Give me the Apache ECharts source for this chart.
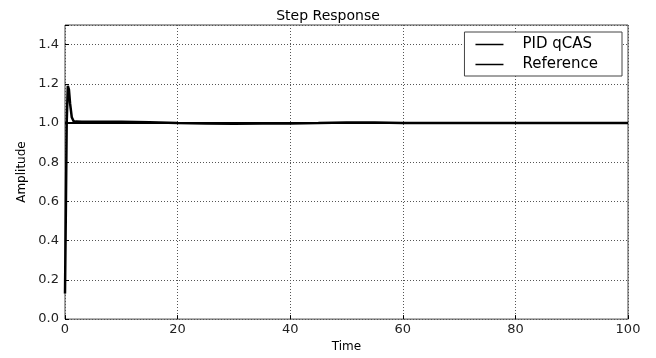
<!DOCTYPE html>
<html>
<head>
<meta charset="utf-8">
<script src="https://cdn.jsdelivr.net/npm/echarts@6/dist/echarts.min.js"></script>
<style>
  html, body { margin: 0; padding: 0; background: #fff; }
  #main { width: 656px; height: 358px; }
</style>
</head>
<body>
<div id="main"></div>
<script>
// time samples and responses
const time = [0, 0.15, 0.3, 0.5, 0.7, 0.9, 1.2, 1.6, 2, 3, 5, 10, 15, 20, 25, 30, 35, 40, 45, 50, 55, 60, 70, 80, 90, 100];
const pidQcas = [0.13, 0.55, 1.0, 1.19, 1.17, 1.1, 1.03, 1.005, 1.008, 1.007, 1.006, 1.006, 1.004, 1.0, 0.997, 0.996, 0.997, 0.998, 1.0, 1.003, 1.003, 1.0, 1.0, 1.0, 1.0, 1.0];
const reference = [1, 1, 1, 1, 1, 1, 1, 1, 1, 1, 1, 1, 1, 1, 1, 1, 1, 1, 1, 1, 1, 1, 1, 1, 1, 1];
const xTicks = [0, 20, 40, 60, 80, 100];
const yTicks = [0.0, 0.2, 0.4, 0.6, 0.8, 1.0, 1.2, 1.4];

const pairs = (ys) => time.map((t, i) => [t, ys[i]]);
const font = 'DejaVu Sans';

let myChart = echarts.init(document.getElementById('main'));
let option = {
    animation: false,
    backgroundColor: '#fff',
    title: {
        text: 'Step Response',
        left: 'center',
        top: 4,
        textStyle: {fontFamily: font, fontSize: 14, fontWeight: 'normal', color: '#000'}
    },
    legend: {
        data: ['PID qCAS', 'Reference'],
        orient: 'vertical',
        right: 34,
        top: 32,
        backgroundColor: '#fff',
        borderColor: '#444',
        borderWidth: 1,
        padding: [5, 24, 4, 11],
        itemGap: 5,
        itemWidth: 28,
        itemHeight: 14,
        icon: 'path://M0,6 L28,6 L28,7.5 L0,7.5 Z',
        textStyle: {fontFamily: font, fontSize: 15, color: '#000', padding: [0, 0, 0, 14]}
    },
    grid: {left: 65, right: 28, top: 25, bottom: 30, show: true, borderColor: '#444', borderWidth: 1},
    xAxis: {
        type: 'value',
        min: 0,
        max: 100,
        interval: 20,
        name: 'Time',
        nameLocation: 'middle',
        nameGap: 20,
        nameTextStyle: {fontFamily: font, fontSize: 12, color: '#000'},
        axisLine: {show: false},
        axisTick: {show: true, inside: true, length: 4, lineStyle: {color: '#000'}},
        axisLabel: {
            fontFamily: font, fontSize: 13, color: '#222', margin: 4,
            formatter: v => xTicks.includes(v) ? String(v) : ''
        },
        splitLine: {show: true, lineStyle: {color: '#555', type: [1, 2], width: 1}}
    },
    yAxis: {
        type: 'value',
        min: 0,
        max: 1.5,
        interval: 0.2,
        name: 'Amplitude',
        nameLocation: 'middle',
        nameGap: 36,
        nameTextStyle: {fontFamily: font, fontSize: 12, color: '#000'},
        axisLine: {show: false},
        axisTick: {show: true, inside: true, length: 4, lineStyle: {color: '#000'}},
        axisLabel: {
            fontFamily: font, fontSize: 13, color: '#222', margin: 6,
            formatter: v => {
                const r = Math.round(v * 10) / 10;
                return yTicks.some(t => Math.abs(t - r) < 1e-9) ? r.toFixed(1) : '';
            }
        },
        splitLine: {show: true, lineStyle: {color: '#555', type: [1, 2], width: 1}}
    },
    series: [
        {
            name: 'PID qCAS',
            type: 'line',
            data: pairs(pidQcas),
            showSymbol: false,
            symbol: 'none',
            lineStyle: {color: '#000', width: 2.5},
            itemStyle: {color: '#000'}
        },
        {
            name: 'Reference',
            type: 'line',
            data: pairs(reference),
            showSymbol: false,
            symbol: 'none',
            lineStyle: {color: '#000', width: 2},
            itemStyle: {color: '#000'}
        }
    ]
};
myChart.setOption(option);
</script>
</body>
</html>
